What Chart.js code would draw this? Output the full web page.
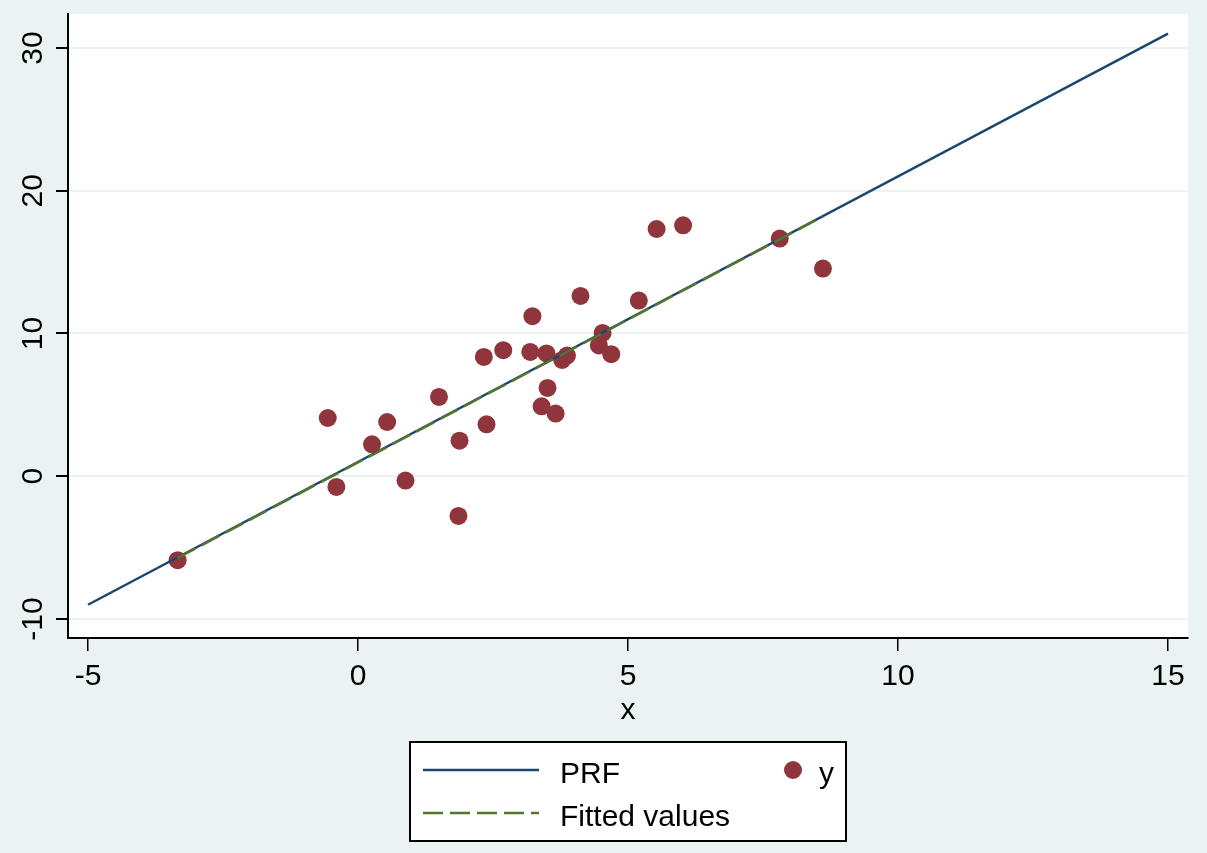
<!DOCTYPE html>
<html>
<head>
<meta charset="utf-8">
<script src="https://cdn.jsdelivr.net/npm/chart.js@4.4.1/dist/chart.umd.min.js"></script>
<style>
  html, body { margin: 0; padding: 0; background: #eaf2f3; }
  #chart { display: block; }
</style>
</head>
<body>
<canvas id="chart" width="1207" height="853"></canvas>
<script>
// observed x and y
const xObs = [-3.34, -0.56, -0.40, 0.26, 0.54, 0.88, 1.50, 1.86, 1.88, 2.33,
              2.38, 2.69, 3.19, 3.23, 3.40, 3.49, 3.51, 3.66, 3.78, 3.87,
              4.12, 4.46, 4.53, 4.69, 5.20, 5.53, 6.02, 7.81, 8.61];
const yObs = [-5.88, 4.08, -0.75, 2.24, 3.80, -0.30, 5.56, -2.78, 2.49, 8.36,
              3.64, 8.83, 8.71, 11.21, 4.90, 8.60, 6.19, 4.39, 8.15, 8.45,
              12.63, 9.16, 10.04, 8.55, 12.31, 17.32, 17.58, 16.65, 14.55];

// population regression function end points
const prfX = [-5, 15];
const prfY = [-9, 31];

// OLS fitted values end points
const fitX = [-3.34, 8.61];
const fitY = [-5.72, 18.2];

const xTicks = [-5, 0, 5, 10, 15];
const yTicks = [-10, 0, 10, 20, 30];

const FONT = '"Liberation Sans", Arial, sans-serif';
const toPts = (xs, ys) => xs.map((x, i) => ({x: x, y: ys[i]}));

const plotBg = {
  id: 'plotBg',
  beforeDraw(chart) {
    const {ctx, chartArea: a} = chart;
    ctx.save();
    ctx.fillStyle = '#ffffff';
    ctx.fillRect(a.left, a.top, a.right - a.left, a.bottom - a.top);
    ctx.restore();
  }
};

const boxLegend = {
  id: 'boxLegend',
  afterDraw(chart) {
    const ctx = chart.ctx;
    const ds = chart.data.datasets;
    ctx.save();
    ctx.fillStyle = '#ffffff';
    ctx.fillRect(410, 742, 436, 99);
    ctx.strokeStyle = '#000000';
    ctx.lineWidth = 2;
    ctx.strokeRect(410, 742, 436, 99);

    ctx.font = '30px ' + FONT;
    ctx.fillStyle = '#000000';
    ctx.textBaseline = 'alphabetic';

    // PRF
    ctx.strokeStyle = ds[1].borderColor;
    ctx.lineWidth = 2.5;
    ctx.beginPath(); ctx.moveTo(423, 770); ctx.lineTo(539, 770); ctx.stroke();
    ctx.fillText(ds[1].label, 560, 783);

    // Fitted values
    ctx.strokeStyle = ds[2].borderColor;
    ctx.lineWidth = 2.5;
    ctx.setLineDash([20, 7]);
    ctx.beginPath(); ctx.moveTo(423, 813); ctx.lineTo(539, 813); ctx.stroke();
    ctx.setLineDash([]);
    ctx.fillText(ds[2].label, 560, 826);

    // y
    ctx.fillStyle = ds[0].backgroundColor;
    ctx.beginPath(); ctx.arc(793, 770, 9, 0, Math.PI * 2); ctx.fill();
    ctx.fillStyle = '#000000';
    ctx.fillText(ds[0].label, 819, 783);
    ctx.restore();
  }
};

new Chart(document.getElementById('chart'), {
  type: 'scatter',
  data: {
    datasets: [{
      label: 'y',
      data: toPts(xObs, yObs),
      backgroundColor: '#90353b',
      borderWidth: 0,
      pointRadius: 9,
      order: 3
    }, {
      label: 'PRF',
      data: toPts(prfX, prfY),
      showLine: true,
      borderColor: '#1a476f',
      borderWidth: 2.5,
      pointRadius: 0,
      order: 2
    }, {
      label: 'Fitted values',
      data: toPts(fitX, fitY),
      showLine: true,
      borderColor: '#55752f',
      borderWidth: 2.5,
      borderDash: [20, 7],
      pointRadius: 0,
      order: 1
    }]
  },
  options: {
    responsive: false,
    animation: false,
    layout: { padding: { top: 14, right: 19, left: 0, bottom: 124 } },
    plugins: { legend: { display: false }, tooltip: { enabled: false } },
    scales: {
      x: {
        type: 'linear',
        min: -5.37, max: 15.37,
        afterFit: s => { s.height = 91; s.paddingLeft = 0; s.paddingRight = 0; },
        afterBuildTicks: s => { s.ticks = xTicks.map(v => ({value: v})); },
        border: { color: '#000000', width: 2 },
        grid: { drawOnChartArea: false, tickLength: 13, tickColor: '#000000', lineWidth: 1.5 },
        ticks: { color: '#000000', font: { size: 30, family: FONT }, padding: 8, maxRotation: 0 },
        title: { display: true, text: 'x', color: '#000000', font: { size: 30, family: FONT }, padding: 0 }
      },
      y: {
        type: 'linear',
        min: -11.33, max: 32.38,
        afterFit: s => { s.width = 68; s.paddingTop = 0; s.paddingBottom = 0; },
        afterBuildTicks: s => { s.ticks = yTicks.map(v => ({value: v})); },
        border: { color: '#000000', width: 2 },
        grid: { color: '#eaf2f3', lineWidth: 2, tickLength: 12, tickColor: '#000000' },
        ticks: { color: '#000000', font: { size: 30, family: FONT }, padding: 1,
                 minRotation: 90, maxRotation: 90, crossAlign: 'center' }
      }
    }
  },
  plugins: [plotBg, boxLegend]
});
</script>
</body>
</html>
